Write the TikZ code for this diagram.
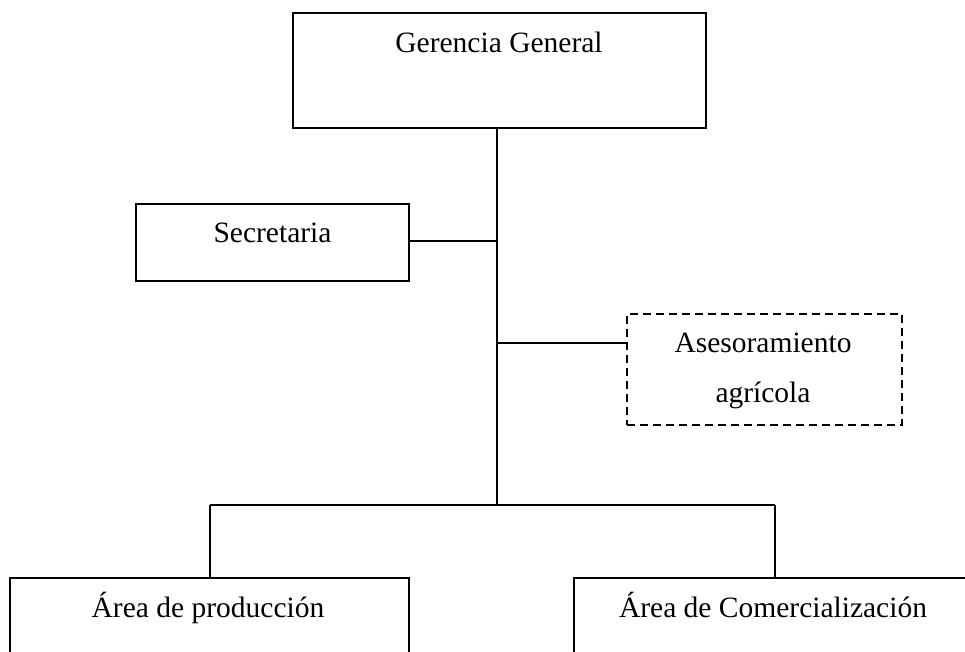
\documentclass[tikz,border=0pt]{standalone}
\usepackage{fontspec}
\setmainfont{Liberation Serif}
\begin{document}
\begin{tikzpicture}[x=1pt,y=-1pt,
  box/.style={draw, line width=2pt, inner sep=0pt},
  dashbox/.style={draw, line width=2pt, inner sep=0pt, dash pattern=on 8pt off 5pt},
  conn/.style={line width=2pt},
  lbl/.style={anchor=base, inner sep=0pt, font=\fontsize{29.5}{35}\selectfont}]
\clip (0,0) rectangle (965,652);
\fill[white] (0,0) rectangle (965,652);
% boxes
\node[box, minimum width=413pt, minimum height=115pt] (ger) at (499.5,70.5) {};
\node[box, minimum width=273pt, minimum height=77pt] (sec) at (272.5,242.5) {};
\node[dashbox, minimum width=275pt, minimum height=111pt] (ase) at (764.5,369.5) {};
\node[box, minimum width=399pt, minimum height=142pt] (prod) at (209.5,649) {};
\node[box, minimum width=398pt, minimum height=142pt] (com) at (773,649) {};
% texts
\node[lbl] (tger) at (499,53) {Gerencia General};
\node[lbl] (tsec) at (272.5,242) {Secretaria};
\node[lbl] (tase1) at (763,352) {Asesoramiento};
\node[lbl] (tase2) at (763,402) {agrícola};
\node[lbl] (tprod) at (208,617) {Área de producción};
\node[lbl] (tcom) at (773,617) {Área de Comercialización};
% junctions
\coordinate (j1) at (497,241);
\coordinate (j2) at (497,343);
\coordinate (j3) at (497,505);
\coordinate (jl) at (210,505);
\coordinate (jr) at (775,505);
% connectors
\draw[conn] (ger.south -| j3) -- (j3);
\draw[conn] (j1 -| sec.east) -- (j1);
\draw[conn] (j2) -- (j2 -| ase.west);
\draw[conn] (jl) -- (jr);
\draw[conn] (jl) -- (jl |- prod.north);
\draw[conn] (jr) -- (jr |- com.north);
\end{tikzpicture}
\end{document}
